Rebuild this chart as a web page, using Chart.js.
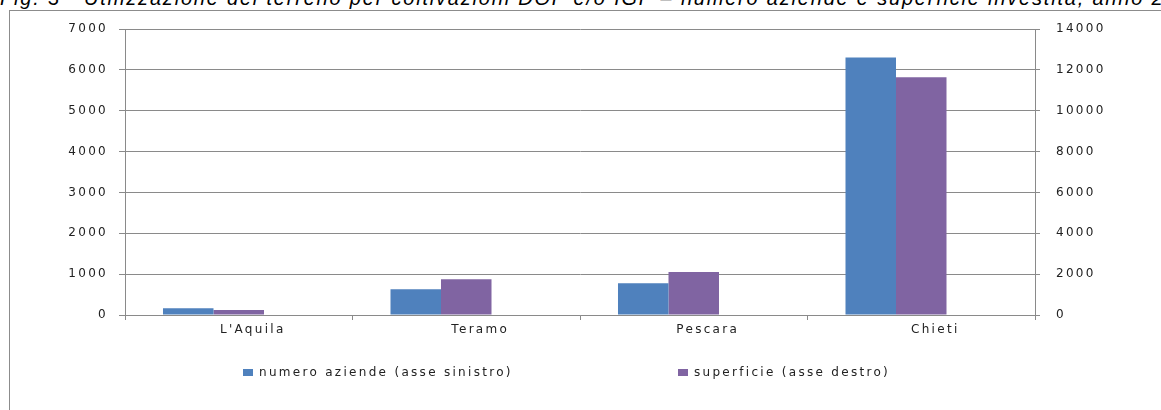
<!DOCTYPE html>
<html>
<head>
<meta charset="utf-8">
<script src="https://cdn.jsdelivr.net/npm/chart.js@4/dist/chart.umd.min.js"></script>
<style>
  html, body { margin: 0; padding: 0; background: #fff; overflow: hidden; }
  #wrap { position: relative; width: 1161px; height: 410px; overflow: hidden; background: #fff; }
  #title { position: absolute; left: 0; top: -13px; white-space: nowrap; font-family: "Liberation Sans", Arial, sans-serif; font-style: italic; font-size: 20px; line-height: 22px; color: #000; letter-spacing: 1.8px; }
  #frame { position: absolute; left: 9px; top: 10px; width: 1200px; height: 420px; border-left: 1px solid #8c8c8c; border-top: 1px solid #8c8c8c; }
  canvas { position: absolute; left: 0; top: 0; }
  .leg { position: absolute; top: 364px; height: 16px; font-family: "DejaVu Sans", sans-serif; font-size: 12px; letter-spacing: 2.3px; color: #222; line-height: 16px; white-space: nowrap; }
  .leg i { display: inline-block; width: 10px; height: 7px; margin-right: 6px; vertical-align: 0px; }
</style>
</head>
<body>
<div id="wrap">
  <div id="title">Fig. 3 - Utilizzazione del terreno per coltivazioni DOP e/o IGP – numero aziende e superficie investita, anno 2010</div>
  <div id="frame"></div>
  <canvas id="c" width="1161" height="410"></canvas>
  <div class="leg" id="leg1" style="left:243px"><i style="background:#4F81BD"></i><span id="lt1"></span></div>
  <div class="leg" id="leg2" style="left:678px"><i style="background:#8064A2"></i><span id="lt2"></span></div>
</div>
<script>
const categories = ["L'Aquila", "Teramo", "Pescara", "Chieti"];
const seriesNames = ["numero aziende (asse sinistro)", "superficie (asse destro)"];
const aziende = [164, 629, 776, 6300];
const superficie = [245, 1748, 2105, 11640];
const emptySeries = [null, null, null, null];
const leftTicks = { min: 0, max: 7000, step: 1000 };
const rightTicks = { min: 0, max: 14000, step: 2000 };

document.getElementById('lt1').textContent = seriesNames[0];
document.getElementById('lt2').textContent = seriesNames[1];

const gridGray = '#8a8a8a';
const font = { family: 'DejaVu Sans', size: 12 };
const plain = v => String(v);

const spacingPlugin = {
  id: 'spacing',
  beforeDraw(chart) { chart.ctx.letterSpacing = '2.3px'; }
};

new Chart(document.getElementById('c'), {
  type: 'bar',
  data: {
    labels: categories,
    datasets: [
      { label: seriesNames[0], data: aziende, backgroundColor: '#4F81BD', yAxisID: 'y' },
      { label: seriesNames[1], data: superficie, backgroundColor: '#8064A2', yAxisID: 'y1' },
      { label: '', data: emptySeries, backgroundColor: 'rgba(0,0,0,0)', yAxisID: 'y' }
    ]
  },
  options: {
    responsive: false,
    animation: false,
    layout: { padding: { top: 29, left: 0, right: 0, bottom: 0 } },
    datasets: { bar: { barPercentage: 1, categoryPercentage: 0.666 } },
    plugins: { legend: { display: false }, tooltip: { enabled: false } },
    scales: {
      x: {
        type: 'category',
        grid: { offset: true, drawOnChartArea: false, tickLength: 5, color: gridGray },
        border: { color: gridGray },
        ticks: { labelOffset: 14, padding: 3, font: font, color: '#222', maxRotation: 0 },
        afterFit(s) { s.height = 95; }
      },
      y: {
        position: 'left',
        min: leftTicks.min, max: leftTicks.max,
        ticks: { stepSize: leftTicks.step, padding: 11, font: font, color: '#222', callback: plain },
        grid: { color: gridGray, tickLength: 6 },
        border: { color: gridGray },
        afterFit(s) { s.width = 125; }
      },
      y1: {
        position: 'right',
        min: rightTicks.min, max: rightTicks.max,
        ticks: { stepSize: rightTicks.step, padding: 16, font: font, color: '#222', callback: plain },
        grid: { drawOnChartArea: false, color: gridGray, tickLength: 5 },
        border: { color: gridGray },
        afterFit(s) { s.width = 126; }
      }
    }
  },
  plugins: [spacingPlugin]
});
</script>
</body>
</html>
